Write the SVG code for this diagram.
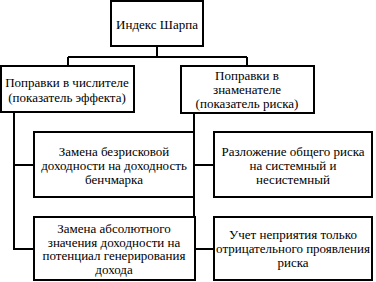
<svg xmlns="http://www.w3.org/2000/svg" width="376" height="282" viewBox="0 0 376 282">
<style>
.b{fill:#fff;stroke:#000;stroke-width:2}
.c{fill:none;stroke:#000;stroke-width:2}
text{font-family:"Liberation Serif","Times New Roman",serif;font-size:13px;fill:#000;text-anchor:middle}
</style>
<rect width="376" height="282" fill="#fff"/>
<g id="connectors">
<path class="c" d="M157 46V57M68 57H247M68 57V66M247 57V66"/>
<path class="c" d="M14 112V249H34M14 165H34"/>
<path class="c" d="M194 113V217M194 165H214M194 249H214"/>
</g>
<g id="n1"><rect class="b" x="111" y="1" width="92" height="45"/><text x="157" y="29">Индекс Шарпа</text></g>
<g id="n2"><rect class="b" x="1" y="66" width="133" height="46"/><text x="67" y="87">Поправки в числителе</text><text x="67" y="102">(показатель эффекта)</text></g>
<g id="n3"><rect class="b" x="181" y="66" width="133" height="47"/><text x="247" y="80">Поправки в</text><text x="247" y="94">знаменателе</text><text x="247" y="108">(показатель риска)</text></g>
<g id="n4"><rect class="b" x="34" y="132" width="160" height="65"/><text x="114" y="155.5">Замена безрисковой</text><text x="114" y="169.5">доходности на доходность</text><text x="114" y="183.5">бенчмарка</text></g>
<g id="n5"><rect class="b" x="214" y="132" width="158" height="65"/><text x="293" y="155.5">Разложение общего риска</text><text x="293" y="169.5">на системный и</text><text x="293" y="183.5">несистемный</text></g>
<g id="n6"><rect class="b" x="34" y="217" width="161" height="63"/><text x="114" y="233">Замена абсолютного</text><text x="114" y="246.5">значения доходности на</text><text x="114" y="260">потенциал генерирования</text><text x="114" y="273.5">дохода</text></g>
<g id="n7"><rect class="b" x="214" y="217" width="158" height="63"/><text x="293" y="238.5">Учет неприятия только</text><text x="293" y="252.5">отрицательного проявления</text><text x="293" y="266.5">риска</text></g>
</svg>
